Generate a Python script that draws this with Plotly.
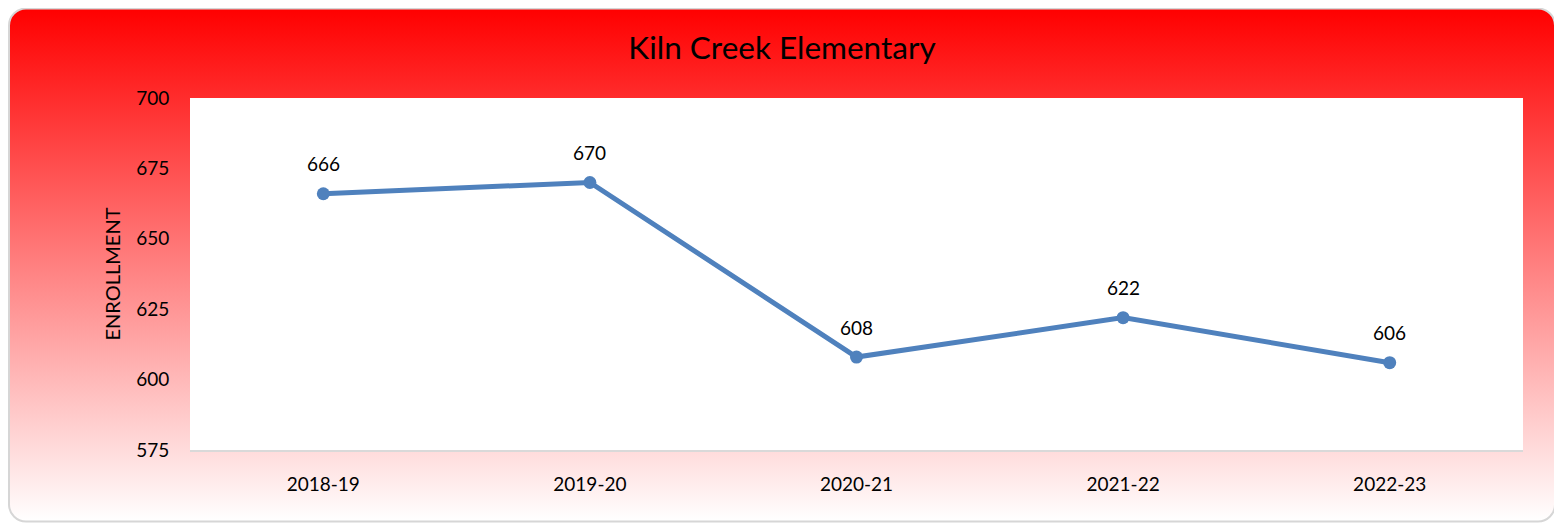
import base64
import plotly.graph_objects as go

# ---- data ----
years = ["2018-19", "2019-20", "2020-21", "2021-22", "2022-23"]
enrollment = [666, 670, 608, 622, 606]
y_ticks = [575, 600, 625, 650, 675, 700]
title_text = "Kiln Creek Elementary"
y_title = "ENROLLMENT"

# page body adds an 8px offset; figure sized so it ends at the window edge
OFF = 8
W, H = 1562 - OFF, 525 - OFF
ML, MR, MT, MB = 190 - OFF, 39, 98 - OFF, 75
PW, PH = W - ML - MR, H - MT - MB

FONT = "Lato, 'Open Sans', sans-serif"

svg = f'''<svg xmlns="http://www.w3.org/2000/svg" width="{W}" height="{H}" viewBox="0 0 {W} {H}">
<defs><linearGradient id="g" x1="0" y1="0" x2="0" y2="1">
<stop offset="0" stop-color="#FF0000"/><stop offset="1" stop-color="#FFFFFF"/>
</linearGradient></defs>
<rect x="1" y="0.5" width="1546" height="513" rx="17" ry="17" fill="url(#g)" stroke="#D6D6D6" stroke-width="2"/>
<rect x="{ML}" y="{MT}" width="{PW}" height="{PH}" fill="#FFFFFF"/>
</svg>'''
src = "data:image/svg+xml;base64," + base64.b64encode(svg.encode()).decode()

fig = go.Figure()
fig.add_trace(go.Scatter(
    x=years, y=enrollment, mode="lines+markers",
    line=dict(color="#4F81BD", width=5),
    marker=dict(color="#4F81BD", size=13),
    hoverinfo="skip", showlegend=False,
))

for xv, yv in zip(years, enrollment):
    fig.add_annotation(x=xv, y=yv, text=str(yv), showarrow=False,
                       yshift=30, font=dict(family=FONT, size=19, color="#000000"))

fig.add_layout_image(dict(
    source=src, xref="paper", yref="paper",
    x=-ML / PW, y=(PH + MT) / PH, sizex=W / PW, sizey=H / PH,
    xanchor="left", yanchor="top", sizing="stretch", layer="below",
))

fig.update_layout(
    width=W, height=H,
    margin=dict(l=ML, r=MR, t=MT, b=MB),
    paper_bgcolor="#FFFFFF",
    plot_bgcolor="rgba(0,0,0,0)",
    title=dict(text=title_text, x=774 / W, xref="container", xanchor="center",
               y=1 - 40 / H, yref="container", yanchor="middle",
               font=dict(family=FONT, size=31.5, color="#000000")),
    font=dict(family=FONT, size=19, color="#000000"),
    xaxis=dict(type="category", range=[-0.5, 4.5], showgrid=False, zeroline=False,
               showline=True, linecolor="#D9D9D9", linewidth=2,
               ticks="outside", ticklen=16, tickcolor="rgba(0,0,0,0)",
               tickfont=dict(family=FONT, size=19)),
    yaxis=dict(range=[575, 700], tickvals=y_ticks, showgrid=False, zeroline=False,
               showline=False, ticks="outside", ticklen=16, tickcolor="rgba(0,0,0,0)",
               tickfont=dict(family=FONT, size=19),
               title=dict(text=y_title, standoff=10, font=dict(family=FONT, size=20))),
)

fig.write_html("out.html")
